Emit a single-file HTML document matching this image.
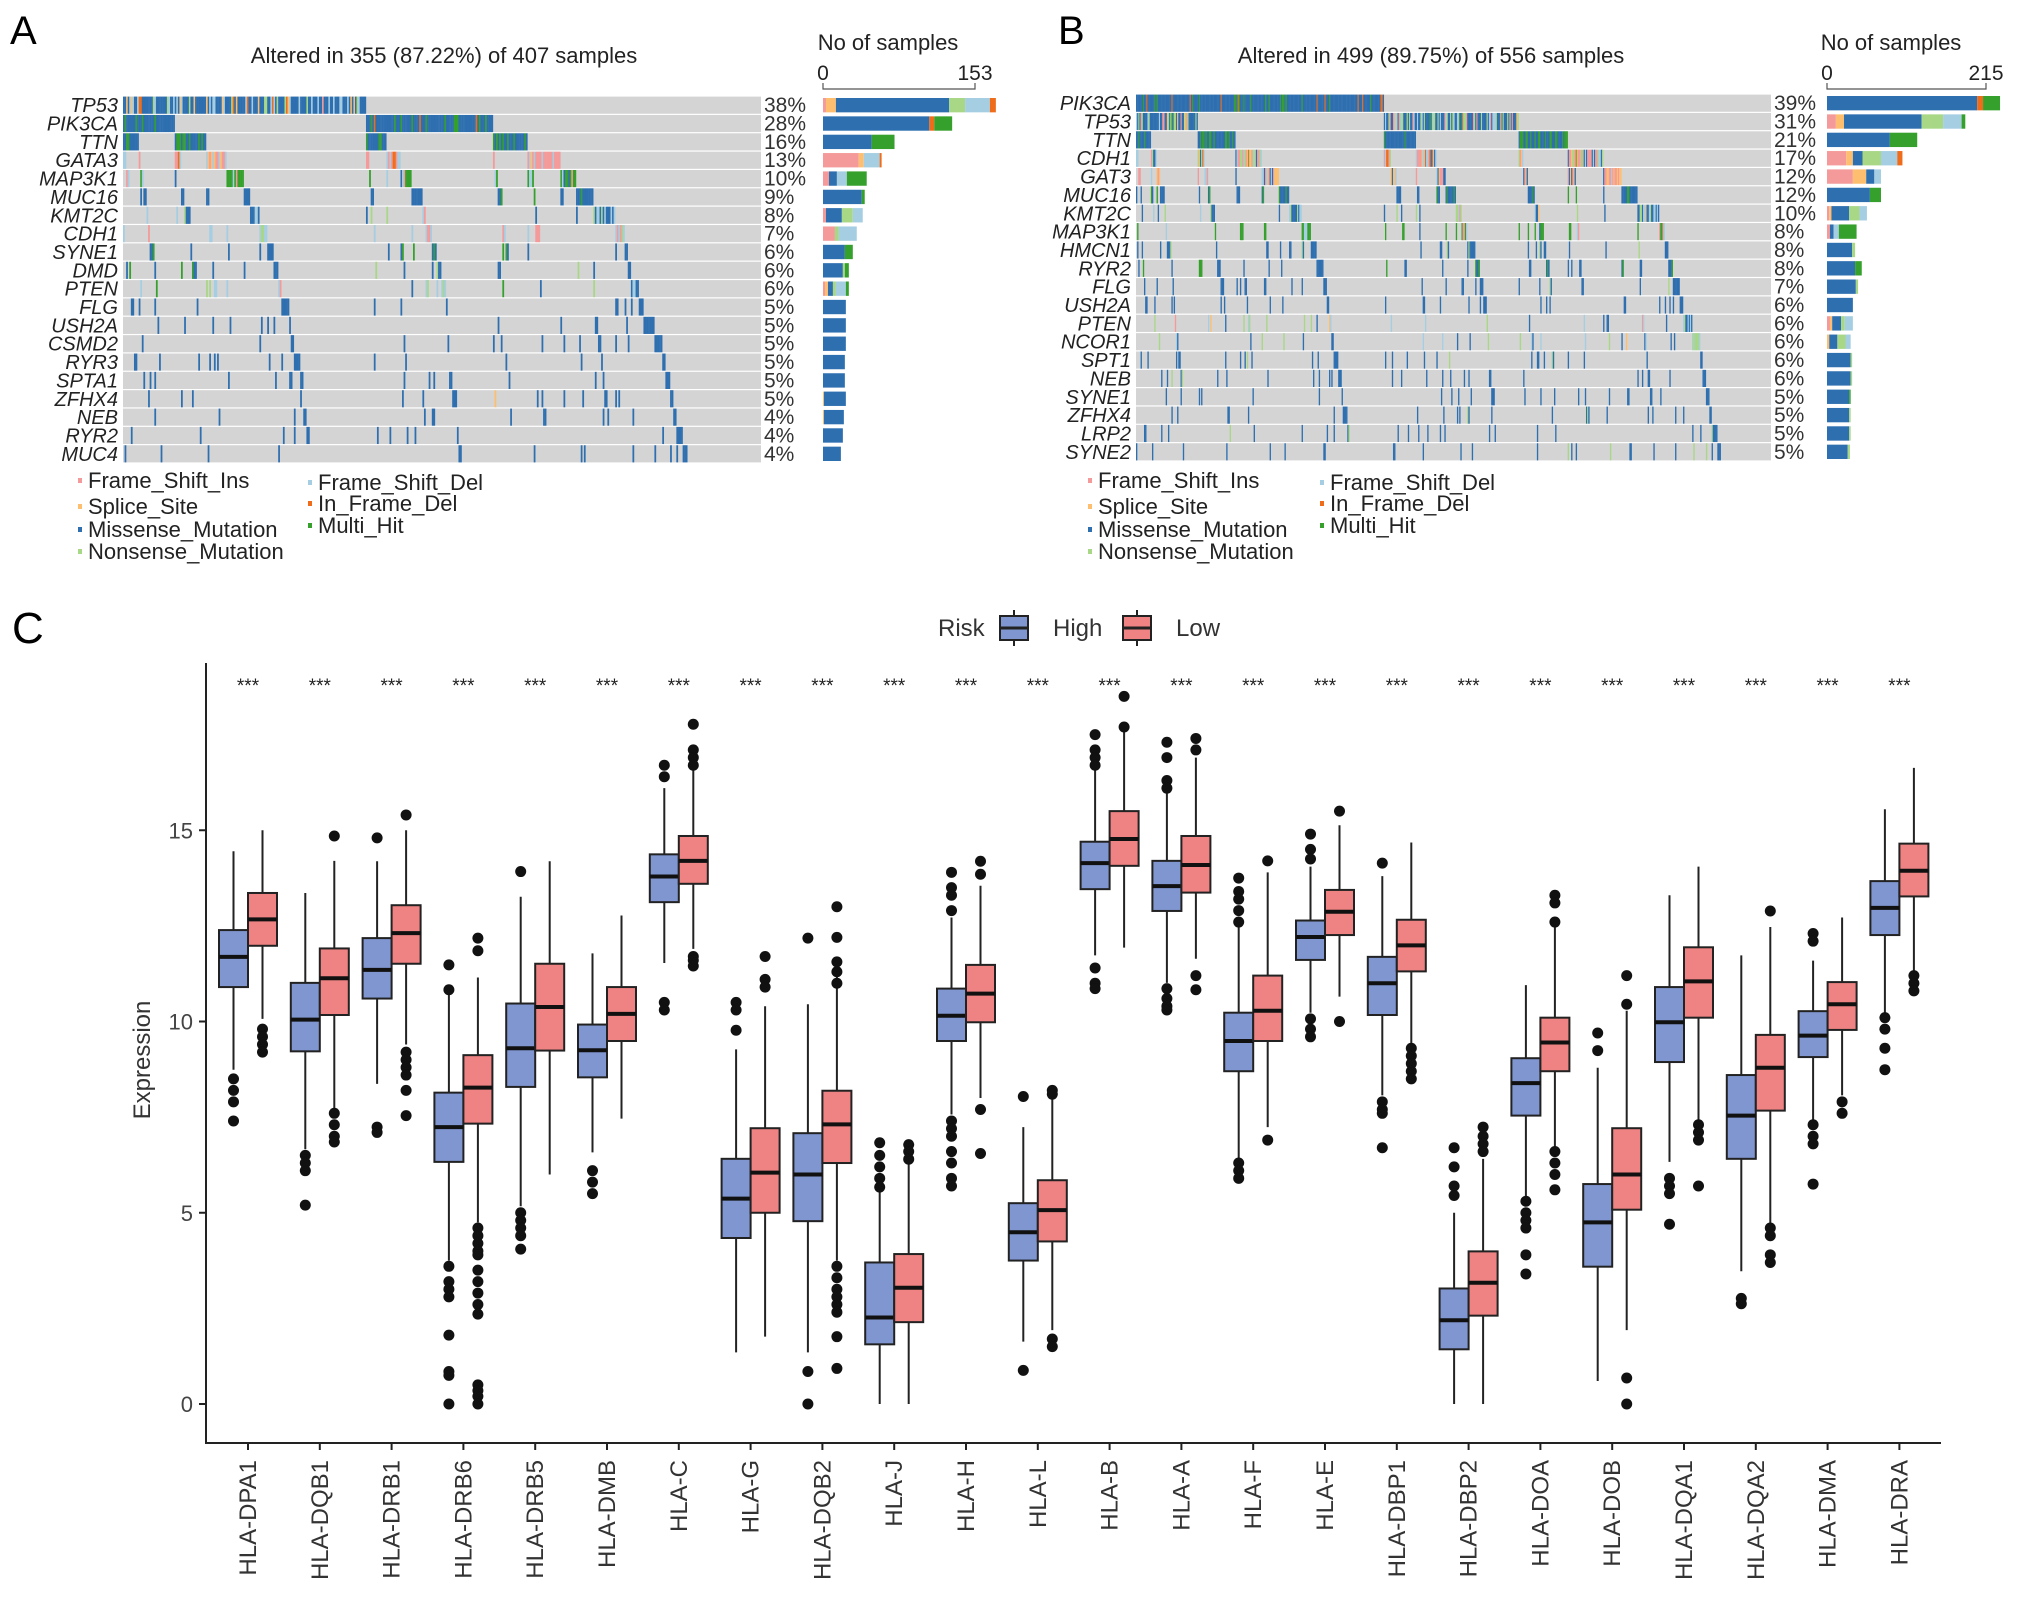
<!DOCTYPE html>
<html><head><meta charset="utf-8"><style>
html,body{margin:0;padding:0;background:#fff;}
svg{display:block;font-family:"Liberation Sans",Arial,sans-serif;}
</style></head><body>
<svg id="fig" width="2032" height="1599" viewBox="0 0 2032 1599" xmlns="http://www.w3.org/2000/svg">
<g id="pa"></g>
<g id="pb"></g>
<g id="pc"></g>
</svg>
<script>
// ---------- Oncoplot data ----------
const typeNames = ["Frame_Shift_Ins","Splice_Site","Missense_Mutation","Nonsense_Mutation","Frame_Shift_Del","In_Frame_Del","Multi_Hit"];
const typeColors = ["#f49a9a","#fdbf6f","#2e6fb0","#a8d786","#a6cee3","#ef6c1a","#35a02c"];
const genesA = ["TP53","PIK3CA","TTN","GATA3","MAP3K1","MUC16","KMT2C","CDH1","SYNE1","DMD","PTEN","FLG","USH2A","CSMD2","RYR3","SPTA1","ZFHX4","NEB","RYR2","MUC4"];
const pctA = [38,28,16,13,10,9,8,7,6,6,6,5,5,5,5,5,5,4,4,4];
const compA = [[3,10,114,16,25,6,0],[0,0,107,0,0,5,18],[0,0,49,0,0,0,23],[36,5,0,0,16,2,0],[6,0,8,0,10,0,20],[0,0,39,0,0,0,3],[3,0,16,11,10,0,0],[12,0,0,4,18,0,0],[0,0,22,0,0,0,8],[0,0,20,2,0,0,4],[2,3,5,3,10,0,3],[0,0,23,0,0,0,0],[0,0,23,0,0,0,0],[0,0,23,0,0,0,0],[0,0,22,0,0,0,0],[0,0,22,0,0,0,0],[0,1,22,0,0,0,0],[0,1,20,0,0,0,0],[0,0,20,0,0,0,0],[0,0,18,0,0,0,0]];
const genesB = ["PIK3CA","TP53","TTN","CDH1","GAT3","MUC16","KMT2C","MAP3K1","HMCN1","RYR2","FLG","USH2A","PTEN","NCOR1","SPT1","NEB","SYNE1","ZFHX4","LRP2","SYNE2"];
const pctB = [39,31,21,17,12,12,10,8,8,8,7,6,6,6,6,6,5,5,5,5];
const compB = [[0,0,203,0,0,8,23],[12,11,105,29,25,0,5],[0,0,85,0,0,0,37],[26,9,13,25,22,7,0],[35,18,11,0,9,0,0],[0,0,58,0,0,0,15],[3,3,24,14,10,0,0],[4,0,5,0,7,0,24],[0,0,34,4,0,0,0],[0,0,38,0,0,0,9],[0,0,39,3,0,0,0],[0,0,35,0,0,0,0],[4,3,12,5,11,0,0],[0,3,11,11,7,0,0],[0,0,32,2,0,0,0],[0,0,32,2,0,0,0],[0,0,30,0,0,0,2],[0,0,30,2,0,0,0],[0,0,30,2,0,0,0],[0,0,28,3,0,0,0]];

// ---------- Boxplot data ----------
const hlaGenes = ["HLA-DPA1","HLA-DQB1","HLA-DRB1","HLA-DRB6","HLA-DRB5","HLA-DMB","HLA-C","HLA-G","HLA-DQB2","HLA-J","HLA-H","HLA-L","HLA-B","HLA-A","HLA-F","HLA-E","HLA-DBP1","HLA-DBP2","HLA-DOA","HLA-DOB","HLA-DQA1","HLA-DQA2","HLA-DMA","HLA-DRA"];
// [whiskerLow, q1, median, q3, whiskerHigh]
const highStats = [[8.74,10.9,11.69,12.39,14.45],[6.66,9.22,10.05,11.01,13.36],[8.37,10.6,11.35,12.18,14.19],[3.75,6.33,7.24,8.14,10.73],[5.17,8.29,9.3,10.47,13.26],[6.58,8.54,9.25,9.92,11.78],[11.53,13.12,13.79,14.37,16.1],[1.35,4.34,5.37,6.41,9.27],[1.35,4.78,6.0,7.08,10.45],[0,1.56,2.26,3.7,5.6],[7.57,9.49,10.15,10.86,12.72],[1.63,3.75,4.49,5.25,7.24],[11.73,13.46,14.14,14.7,16.6],[11.01,12.89,13.54,14.2,16.05],[6.41,8.7,9.49,10.23,12.56],[10.23,11.61,12.21,12.64,14.05],[8.07,10.17,11.0,11.69,13.8],[0,1.43,2.19,3.02,5.0],[5.42,7.54,8.39,9.04,10.95],[0.6,3.59,4.75,5.75,8.79],[6.33,8.94,9.98,10.9,13.3],[3.47,6.41,7.54,8.6,11.73],[7.4,9.07,9.63,10.27,11.59],[10.23,12.26,12.97,13.67,15.55]];
const lowStats = [[10.07,11.98,12.67,13.36,15.0],[7.74,10.17,11.13,11.91,14.2],[9.4,11.51,12.31,13.04,15.0],[4.75,7.33,8.27,9.12,11.15],[6.0,9.24,10.38,11.51,14.19],[7.46,9.49,10.2,10.9,12.77],[11.9,13.6,14.2,14.85,16.9],[1.76,5.0,6.05,7.21,10.4],[3.75,6.3,7.31,8.19,11.18],[0,2.14,3.04,3.92,6.6],[8.0,9.98,10.73,11.48,13.55],[1.93,4.25,5.07,5.85,8.0],[11.93,14.07,14.77,15.5,17.6],[11.64,13.37,14.09,14.85,16.9],[7.24,9.49,10.28,11.2,13.9],[10.65,12.26,12.87,13.44,15.13],[9.4,11.31,11.99,12.66,14.68],[0,2.31,3.17,3.99,6.41],[6.66,8.7,9.45,10.1,12.47],[1.93,5.08,6.0,7.21,10.28],[7.4,10.1,11.05,11.94,14.05],[4.67,7.67,8.79,9.65,12.47],[8.07,9.78,10.45,11.03,12.72],[11.31,13.27,13.94,14.65,16.63]];
const highOut = [[8.5,8.2,7.9,7.4],[6.5,6.3,6.1,5.2],[7.24,7.1,14.8],[3.6,3.2,3.0,2.8,1.8,0.85,0.75,0,11.48,10.83],[5.0,4.8,4.6,4.4,4.05,13.92],[6.1,5.8,5.5],[10.5,10.3,16.7,16.4],[10.5,10.3,9.77],[0.85,0,12.18],[6.83,6.5,6.2,5.9,5.67],[13.9,13.5,13.3,12.9,7.4,7.2,7.0,6.6,6.3,5.9,5.7],[8.04,0.88],[17.5,17.1,16.9,16.7,11.4,11.0,10.86],[17.3,16.9,16.3,16.1,10.86,10.6,10.4,10.3],[13.75,13.4,13.2,12.9,12.6,6.3,6.1,5.9],[14.9,14.5,14.25,10.07,9.8,9.6],[14.14,7.9,7.7,7.6,6.7],[6.7,6.2,5.7,5.45],[5.3,5.0,4.8,4.6,3.9,3.4],[9.7,9.24],[5.9,5.7,5.5,4.7],[2.76,2.62],[12.3,12.1,7.3,7.0,6.8,5.75],[10.1,9.8,9.3,8.74]];
const lowOut = [[9.8,9.6,9.4,9.2],[7.6,7.3,7.0,6.85,14.85],[9.2,9.0,8.8,8.6,8.2,7.54,15.4],[4.6,4.4,4.2,4.0,3.9,3.5,3.2,2.9,2.6,2.35,0.5,0.35,0.2,0,12.18,11.85],[],[],[17.77,17.1,16.9,16.7,11.7,11.6,11.45],[11.7,11.1,10.9],[3.6,3.3,3.0,2.8,2.6,2.4,1.76,0.93,11.56,11.3,11.0,12.2,13.0],[6.78,6.6,6.4],[14.19,13.85,7.7,6.55],[8.2,8.1,1.7,1.5],[18.5,17.7],[17.4,17.1,11.2,10.83],[14.2,6.9],[15.5,10.0],[9.3,9.1,8.9,8.7,8.5],[7.24,7.0,6.8,6.6],[13.3,13.1,12.6,6.6,6.3,6.0,5.6],[11.2,10.45,0.68,0],[7.3,7.1,6.9,5.7],[12.89,4.6,4.4,3.9,3.7],[7.9,7.6],[11.2,11.0,10.8]];
const yTicks = [0,5,10,15];
const sigLabels = hlaGenes.map(()=> "***");

const NS="http://www.w3.org/2000/svg";
function mk(parent, tag, attrs, text){
  const e=document.createElementNS(NS,tag);
  for(const k in attrs) e.setAttribute(k,attrs[k]);
  if(text!==undefined) e.textContent=text;
  parent.appendChild(e); return e;
}

// deterministic hash for sample layout
function h(a,b){let x=(a*374761393+b*668265263)>>>0;x=(x^(x>>>13))*1274126177>>>0;return ((x^(x>>>16))>>>0)/4294967296;}

function oncoplot(g, cfg){
  const {genes,pct,comp,N,x0,x1,top,bottom,barX0,barX1,maxC,title,titleX,nosX,letter,letterX,legX1,legX2} = cfg;
  const t=mk(g,'text',{x:letterX,y:44,'font-size':40},letter);
   
  const tt=mk(g,'text',{x:titleX,y:63,'font-size':22,'text-anchor':'middle',fill:'#222'},title);
   
  const ns=mk(g,'text',{x:nosX,y:50,'font-size':22,'text-anchor':'middle',fill:'#222'},'No of samples');
   
  mk(g,'text',{x:barX0,y:80,'font-size':21,'text-anchor':'middle',fill:'#222'},'0');
  mk(g,'text',{x:barX1,y:80,'font-size':21,'text-anchor':'middle',fill:'#222'},String(maxC));
  mk(g,'path',{d:`M${barX0} 83V89H${barX1}V83`,stroke:'#555',fill:'none','stroke-width':1.2});
  const rowH=(bottom-top)/genes.length;
  const counts=pct.map(p=>Math.round(p/100*N));
  const mat=[];
  for(let s=0;s<N;s++){mat.push(genes.map(()=>-1));}
  genes.forEach((gn,gi)=>{
    const scores=[];
    for(let s=0;s<N;s++) scores.push([h(s,gi+7),s]);
    scores.sort((a,b)=>a[0]-b[0]);
    const cw=comp[gi]; const tot=cw.reduce((a,b)=>a+b,0)||1;
    for(let k=0;k<counts[gi];k++){
      const s=scores[k][1]; let r=h(s,gi+101)*tot, ty=0;
      while(ty<6 && r>=cw[ty]){r-=cw[ty];ty++;}
      mat[s][gi]=ty;
    }
  });
  const order=[...Array(N).keys()].sort((a,b)=>{
    for(let gi=0;gi<genes.length;gi++){const A=mat[a][gi]>=0,B=mat[b][gi]>=0; if(A!==B) return A?-1:1;}
    return 0;});
  const cw=(x1-x0)/N;
  genes.forEach((gn,gi)=>{
    const y=top+gi*rowH;
    const bg=mk(g,'rect',{x:x0,y:y+0.6,width:x1-x0,height:rowH-1.2,fill:'#d4d4d4'});
     
    order.forEach((s,i)=>{const ty=mat[s][gi]; if(ty<0) return;
      mk(g,'rect',{x:x0+i*cw,y:y+0.6,width:cw+0.2,height:rowH-1.2,fill:typeColors[ty]});});
    const lb=mk(g,'text',{x:x0-5,y:y+rowH/2+7,'font-size':20,'font-style':'italic','text-anchor':'end',fill:'#222'},gn);
     
    const pl=mk(g,'text',{x:x1+3,y:y+rowH/2+7,'font-size':21,fill:'#333'},pct[gi]+'%');
     
    let bx=barX0; const sc=(barX1-barX0)/maxC;
    comp[gi].forEach((c,ti)=>{ if(!c) return;
      const r=mk(g,'rect',{x:bx,y:y+2,width:c*sc,height:rowH-4,fill:typeColors[ti]});
       
      bx+=c*sc;});
  });
  const pos=[[legX1,481],[legX1,507],[legX1,530],[legX1,552],[legX2,483],[legX2,504],[legX2,526]];
  [0,1,2,3,4,5,6].forEach((ti,i)=>{const [lx,ly]=pos[i];
    const d=mk(g,'rect',{x:lx-2,y:ly-3,width:4,height:5,fill:typeColors[ti]});
     
    const l=mk(g,'text',{x:lx+8,y:ly+7,'font-size':22,fill:'#222'},typeNames[ti]);
     });
}
oncoplot(document.getElementById('pa'),{genes:genesA,pct:pctA,comp:compA,N:407,x0:123,x1:761,top:96,bottom:463,barX0:823,barX1:975,maxC:153,title:'Altered in 355 (87.22%) of 407 samples',titleX:444,nosX:888,letter:'A',letterX:10,legX1:80,legX2:310});
oncoplot(document.getElementById('pb'),{genes:genesB,pct:pctB,comp:compB,N:556,x0:1136,x1:1771,top:94,bottom:461,barX0:1827,barX1:1986,maxC:215,title:'Altered in 499 (89.75%) of 556 samples',titleX:1431,nosX:1891,letter:'B',letterX:1058,legX1:1090,legX2:1322});

// ---------- Boxplot ----------
(function(){
  const g=document.getElementById('pc');
  const yS=v=>1404-v*38.25;
  const xS=i=>248+i*71.8;
  const c=mk(g,'text',{x:12,y:643,'font-size':44},'C');
   
  const ax=mk(g,'path',{d:'M206 663V1443H1941',stroke:'#222',fill:'none','stroke-width':2});
   
  yTicks.forEach(v=>{
    mk(g,'line',{x1:199,x2:206,y1:yS(v),y2:yS(v),stroke:'#222','stroke-width':2});
    const t=mk(g,'text',{x:193,y:yS(v)+8,'font-size':22,'text-anchor':'end',fill:'#444'},String(v));
     
  });
  const yt=mk(g,'text',{x:0,y:0,'font-size':24,'text-anchor':'middle',fill:'#333',transform:'translate(150,1060) rotate(-90)'},'Expression');
   
  const lg=mk(g,'g',{});  
  mk(lg,'text',{x:938,y:636,'font-size':24,fill:'#333'},'Risk');
  [[1000,'#8096d0','High',1053],[1123,'#ef8383','Low',1176]].forEach(([kx,col,lab,tx])=>{
    const k=mk(lg,'g',{});  
    mk(k,'line',{x1:kx+14,x2:kx+14,y1:610,y2:646,stroke:'#222','stroke-width':2});
    mk(k,'rect',{x:kx,y:616,width:28,height:24,fill:col,stroke:'#222','stroke-width':2});
    mk(k,'line',{x1:kx,x2:kx+28,y1:628,y2:628,stroke:'#222','stroke-width':3});
    mk(k,'text',{x:tx,y:636,'font-size':24,fill:'#333'},lab);
  });
  function box(parent,cx,st,outs,col,name){
    const b=mk(parent,'g',{});  
    const w=29;
    mk(b,'line',{x1:cx,x2:cx,y1:yS(st[4]),y2:yS(st[0]),stroke:'#222','stroke-width':2});
    mk(b,'rect',{x:cx-w/2,y:yS(st[3]),width:w,height:yS(st[1])-yS(st[3]),fill:col,stroke:'#222','stroke-width':2});
    mk(b,'line',{x1:cx-w/2,x2:cx+w/2,y1:yS(st[2]),y2:yS(st[2]),stroke:'#111','stroke-width':4});
    outs.forEach(v=>{const o=mk(b,'circle',{cx:cx,cy:yS(v),r:5.5,fill:'#111'});
       });
  }
  hlaGenes.forEach((gn,i)=>{
    const cx=xS(i);
    const grp=mk(g,'g',{});  
    box(grp,cx-14.5,highStats[i],highOut[i],'#8096d0','box-high');
    box(grp,cx+14.5,lowStats[i],lowOut[i],'#ef8383','box-low');
    const s=mk(g,'text',{x:cx,y:692,'font-size':19,'text-anchor':'middle',fill:'#222'},sigLabels[i]);
     
    mk(g,'line',{x1:cx,x2:cx,y1:1443,y2:1450,stroke:'#222','stroke-width':2});
    const xl=mk(g,'text',{x:0,y:0,'font-size':24,'text-anchor':'end',fill:'#333',transform:`translate(${cx+8},1460) rotate(-90)`},gn);
     
  });
})();
</script>
</body></html>
